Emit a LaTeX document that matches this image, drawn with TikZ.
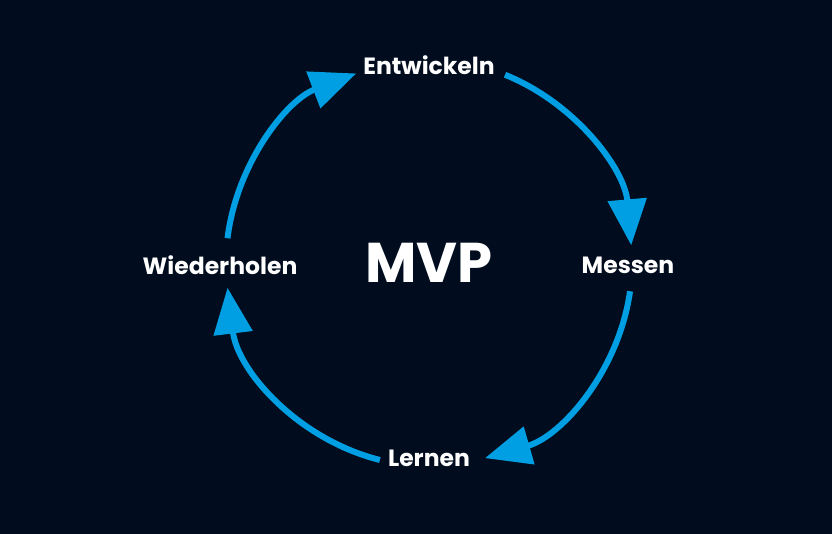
\documentclass[tikz,border=0pt]{standalone}
\usepackage{fontspec}
\setmainfont{Poppins}[BoldFont={Poppins Bold}]
\usetikzlibrary{arrows.meta}
\definecolor{navy}{HTML}{010D1E}
\definecolor{cycleblue}{HTML}{009FE3}

\begin{document}
\begin{tikzpicture}[x=1pt, y=1pt]

    % Define styles
    \tikzstyle{step label} = [
        text=white, font=\bfseries\fontsize{23.5}{28}\selectfont,
        inner sep=0pt
    ]
    \tikzstyle{arrow} = [
        draw=cycleblue, line width=6pt,
        -{Triangle[length=46pt, width=38pt]}
    ]

    % Background
    \fill[navy] (0,0) rectangle (832,534);
    \useasboundingbox (0,0) rectangle (832,534);

    % Nodes
    \node[text=white, font=\bfseries\fontsize{56}{60}\selectfont, inner sep=0pt] (mvp) at (429,271) {MVP};
    \node[step label] (entw) at (429,469) {Entwickeln};
    \node[step label] (mess) at (628,269) {Messen};
    \node[step label] (lern) at (429,76) {Lernen};
    \node[step label] (wied) at (220,269) {Wiederholen};

    % Arrows (arcs round the centre)
    \draw[arrow] ([shift={(68:203)}]mvp.center) arc[start angle=68, end angle=5, radius=203];
    \draw[arrow] ([shift={(-8:203)}]mvp.center) arc[start angle=-8, end angle=-74, radius=203];
    \draw[arrow] ([shift={(-104:203)}]mvp.center) arc[start angle=-104, end angle=-173, radius=203];
    \draw[arrow] ([shift={(173:203)}]mvp.center) arc[start angle=173, end angle=111, radius=203];

\end{tikzpicture}
\end{document}
